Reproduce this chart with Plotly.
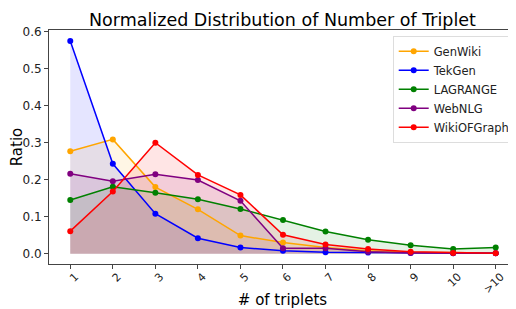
import plotly.graph_objects as go

categories = ["1", "2", "3", "4", "5", "6", "7", "8", "9", "10", ">10"]
genwiki = [0.277, 0.309, 0.180, 0.120, 0.049, 0.030, 0.017, 0.008, 0.004, 0.004, 0.002]
tekgen = [0.575, 0.243, 0.108, 0.042, 0.017, 0.008, 0.004, 0.003, 0.002, 0.001, 0.001]
lagrange = [0.145, 0.181, 0.165, 0.147, 0.121, 0.091, 0.060, 0.038, 0.023, 0.013, 0.017]
webnlg = [0.216, 0.196, 0.215, 0.199, 0.143, 0.015, 0.015, 0.005, 0.002, 0.001, 0.001]
wikiofgraph = [0.061, 0.168, 0.300, 0.213, 0.159, 0.051, 0.025, 0.013, 0.005, 0.002, 0.001]

series = [
    ("GenWiki", genwiki, "orange", "rgba(255,165,0,0.1)"),
    ("TekGen", tekgen, "blue", "rgba(0,0,255,0.1)"),
    ("LAGRANGE", lagrange, "green", "rgba(0,128,0,0.1)"),
    ("WebNLG", webnlg, "purple", "rgba(128,0,128,0.1)"),
    ("WikiOFGraph", wikiofgraph, "red", "rgba(255,0,0,0.1)"),
]

xpos = list(range(1, len(categories) + 1))
fig = go.Figure()
for name, vals, col, fcol in series:
    fig.add_trace(go.Scatter(
        x=xpos, y=vals, mode="lines", line=dict(width=0, color=fcol),
        fill="tozeroy", fillcolor=fcol, showlegend=False, hoverinfo="skip",
    ))
for name, vals, col, fcol in series:
    fig.add_trace(go.Scatter(
        x=xpos, y=vals, name=name, mode="lines+markers",
        line=dict(color=col, width=1.5),
        marker=dict(color=col, size=6),
    ))

# page body has an 8px margin, so the figure is 508x301 drawn at (8, 8)
W, H = 508, 301
L, T, B = 41, 22, 45
font = "DejaVu Sans"
fig.update_layout(
    width=W, height=H,
    margin=dict(l=L, r=0, t=T, b=B, autoexpand=False),
    paper_bgcolor="white", plot_bgcolor="white",
    font=dict(family=font, color="#222", size=12),
    title=dict(text="Normalized Distribution of Number of Triplet",
               x=(L + W) / 2 / W, xanchor="center", y=1 - 12 / H, yanchor="middle",
               font=dict(size=17.5, color="black"), automargin=False),
    legend=dict(x=0.736, xanchor="left", y=0.9756, yanchor="top",
                bgcolor="white", bordercolor="#ddd", borderwidth=1,
                font=dict(size=11.5, color="#222"), itemwidth=30,
                tracegroupgap=0),
    showlegend=True,
)
fig.update_xaxes(
    range=[0.5, 11.477], tickmode="array", tickvals=xpos, ticktext=categories,
    tickangle=-45, ticks="outside", ticklen=4, tickcolor="#444",
    showline=True, linecolor="#444", linewidth=1, mirror=True,
    showgrid=False, zeroline=False, automargin=True,
    tickfont=dict(size=11), ticklabelshift=5, ticklabelstandoff=-3,
    title=dict(text="# of triplets", font=dict(size=15, color="black"), standoff=12),
)
fig.update_yaxes(
    range=[-0.0278, 0.6046], tickmode="array",
    tickvals=[0, 0.1, 0.2, 0.3, 0.4, 0.5, 0.6],
    ticktext=["0.0", "0.1", "0.2", "0.3", "0.4", "0.5", "0.6"],
    ticks="outside", ticklen=4, tickcolor="#444",
    showline=True, linecolor="#444", linewidth=1, mirror=True,
    showgrid=False, zeroline=False, automargin=False,
    tickfont=dict(size=12),
    title=dict(text="Ratio", font=dict(size=15, color="black"), standoff=6),
)
fig.write_html("out.html")
